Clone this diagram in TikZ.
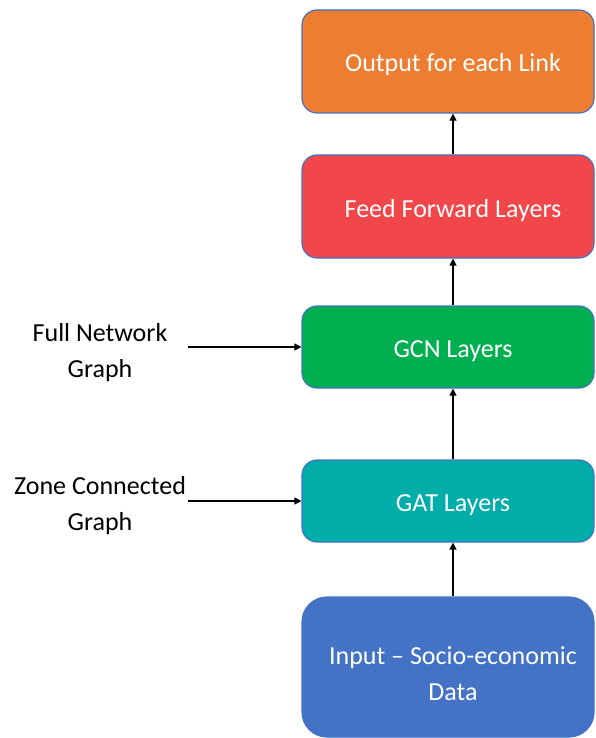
\documentclass[tikz,border=0pt]{standalone}
\usepackage{fontspec}
\setmainfont{Carlito}
\usetikzlibrary{arrows.meta,calc}
\definecolor{cOut}{HTML}{ED7D31}
\definecolor{cFF}{HTML}{F2474A}
\definecolor{cGCN}{HTML}{00B050}
\definecolor{cGAT}{HTML}{00ADA9}
\definecolor{cIn}{HTML}{4472C4}
\definecolor{cEdge}{HTML}{4472C4}
\tikzset{
  layerbox/.style={draw=cEdge, line width=1.2pt, rounded corners=15pt, minimum width=292pt, inner sep=0pt},
  boxtext/.style={text=white, font=\fontsize{26}{36}\selectfont, align=center, inner sep=0pt},
  sidetext/.style={text=black, font=\fontsize{26}{36}\selectfont, align=center, inner sep=0pt},
  conn/.style={-{Triangle[length=7pt,width=7pt]}, line width=1.3pt, black},
}
\begin{document}
\begin{tikzpicture}[x=1pt,y=-1pt]
\useasboundingbox (0,0) rectangle (595,738);
% boxes
\node[layerbox, fill=cOut, minimum height=103pt] (out) at (448,61.5) {};
\node[layerbox, fill=cFF, minimum height=103pt] (ff) at (448,206.5) {};
\node[layerbox, fill=cGCN, minimum height=82pt] (gcn) at (448,347) {};
\node[layerbox, fill=cGAT, minimum height=82pt] (gat) at (448,501) {};
\node[layerbox, fill=cIn, minimum height=140pt, rounded corners=25pt] (inp) at (448,667) {};
% texts
\node[boxtext] (outT) at (453,65) {Output for each Link};
\node[boxtext] (ffT) at (453,211) {Feed Forward Layers};
\node[boxtext] (gcnT) at (453,351) {GCN Layers};
\node[boxtext] (gatT) at (453,505) {GAT Layers};
\node[boxtext] (inpT) at (453,674) {Input -- Socio-economic\\Data};
\node[sidetext] (full) at (100,353) {Full Network\\Graph};
\node[sidetext] (zone) at (100,506) {Zone Connected\\Graph};
% vertical connectors
\draw[conn] (inp.north -| inpT) -- (gat.south -| inpT);
\draw[conn] (gat.north -| gatT) -- (gcn.south -| gatT);
\draw[conn] (gcn.north -| gcnT) -- (ff.south -| gcnT);
\draw[conn] (ff.north -| ffT) -- (out.south -| ffT);
% side connectors
\coordinate (fullE) at (188,347);
\coordinate (zoneE) at (188,501);
\draw[conn] (fullE) -- (fullE -| gcn.west);
\draw[conn] (zoneE) -- (zoneE -| gat.west);
\end{tikzpicture}
\end{document}
